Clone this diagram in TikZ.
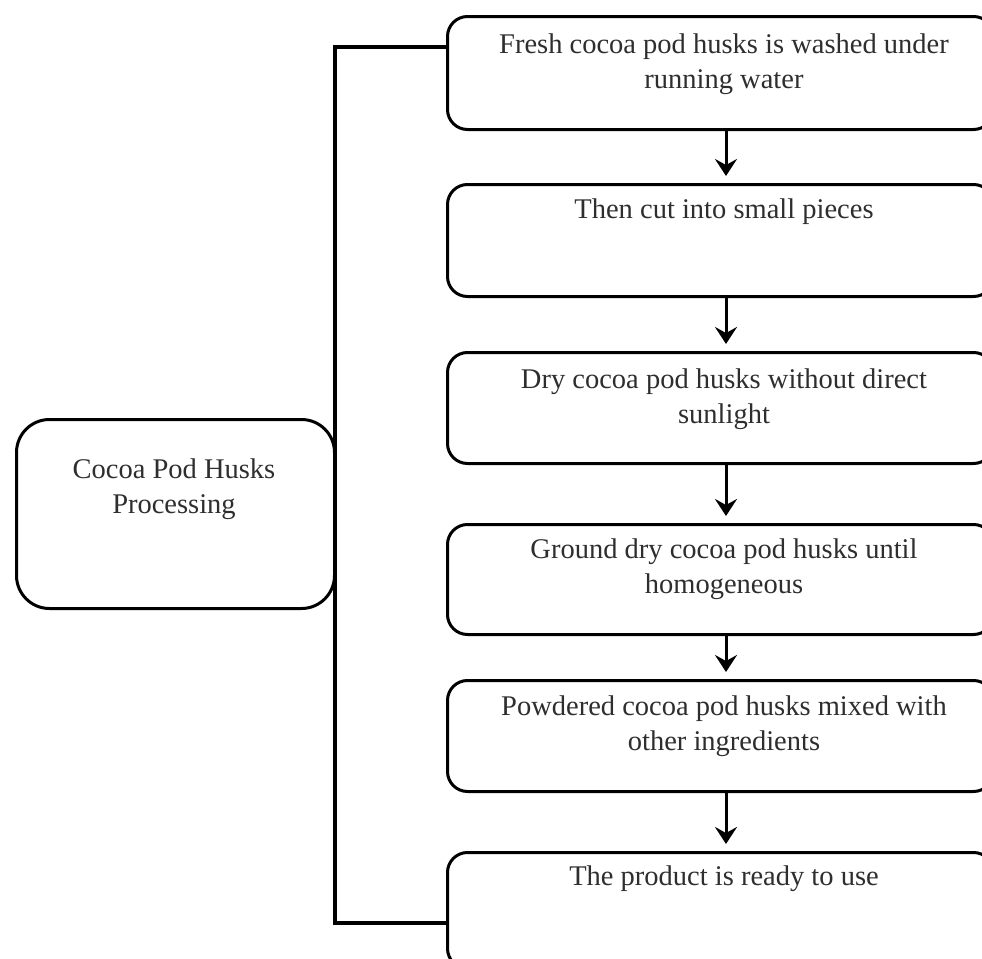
\documentclass[tikz,border=0pt]{standalone}
\usepackage{fontspec}
\setmainfont{Liberation Serif}
\usetikzlibrary{arrows.meta}
\begin{document}
\begin{tikzpicture}[x=0.5pt,y=-0.5pt,
  stepbox/.style={draw=black, line width=1.5pt, rounded corners=10pt, anchor=north west, inner sep=0pt, minimum width=273pt},
  mainbox/.style={draw=black, line width=1.5pt, rounded corners=16.5pt, anchor=north west, inner sep=0pt, minimum width=159pt, minimum height=94.5pt},
  txt/.style={align=center, anchor=base, inner sep=0pt, text=black!82, font=\fontsize{14.25pt}{17.5pt}\selectfont},
  arr/.style={line width=1.5pt, -{Stealth[length=8.5pt,width=11pt,inset=3pt]}, shorten >=3.5pt},
  bracket/.style={line width=2.3pt, line join=miter}
]
\useasboundingbox (0,0) rectangle (982,959);
% left box
\node[mainbox] (m) at (15,418) {};
\node[txt] (mt) at (174,513) {Cocoa Pod Husks\\Processing};
% step boxes
\node[stepbox, minimum height=56.5pt] (b1) at (446,15) {};
\node[stepbox, minimum height=56pt] (b2) at (446,183) {};
\node[stepbox, minimum height=55.5pt] (b3) at (446,351) {};
\node[stepbox, minimum height=55pt] (b4) at (446,523) {};
\node[stepbox, minimum height=55.5pt] (b5) at (446,679) {};
\node[stepbox, minimum height=58pt] (b6) at (446,851) {};
\node[txt] (t1) at (724,88) {Fresh cocoa pod husks is washed under\\running water};
\node[txt] (t2) at (724,218) {Then cut into small pieces};
\node[txt] (t3) at (724,423) {Dry cocoa pod husks without direct\\sunlight};
\node[txt] (t4) at (724,593) {Ground dry cocoa pod husks until\\homogeneous};
\node[txt] (t5) at (724,750) {Powdered cocoa pod husks mixed with\\other ingredients};
\node[txt] (t6) at (724,885) {The product is ready to use};
% arrows
\coordinate (ax) at (726,0);
\draw[arr] (b1.south -| ax) -- (b2.north -| ax);
\draw[arr] (b2.south -| ax) -- (b3.north -| ax);
\draw[arr] (b3.south -| ax) -- (b4.north -| ax);
\draw[arr] (b4.south -| ax) -- (b5.north -| ax);
\draw[arr] (b5.south -| ax) -- (b6.north -| ax);
% bracket
\coordinate (bt) at (335,47);
\coordinate (bb) at (335,923);
\draw[bracket] (b1.west |- bt) -- (bt) -- (bb) -- (b6.west |- bb);
\end{tikzpicture}
\end{document}
